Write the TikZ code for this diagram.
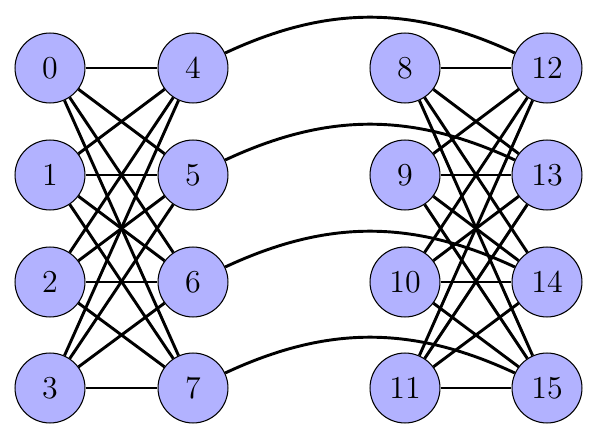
\documentclass[tikz,border=0pt]{standalone}
\begin{document}
\begin{tikzpicture}[x=0.376pt,y=0.376pt,
  vert/.style={circle,draw=black,fill=blue!30,minimum size=26.3pt,inner sep=0pt,font=\large},
  edge/.style={draw=black,line width=1.1pt}]
\useasboundingbox (0,0) rectangle (606,443);
\foreach \c/\px in {0/50,1/193,2/405,3/547}{
  \foreach \r/\py in {0/68,1/175,2/282,3/388}{
    \pgfmathtruncatemacro{\n}{\c*4+\r}
    \node[vert] (v\n) at (\px,443-\py) {\n};
  }
}
\foreach \a in {0,1,2,3}{
  \foreach \b in {4,5,6,7}{
    \draw[edge] (v\a) -- (v\b);
  }
}
\foreach \a in {8,9,10,11}{
  \foreach \b in {12,13,14,15}{
    \draw[edge] (v\a) -- (v\b);
  }
}
\draw[edge] (v4) to[bend left=25] (v12);
\draw[edge] (v5) to[bend left=25] (v13);
\draw[edge] (v6) to[bend left=25] (v14);
\draw[edge] (v7) to[bend left=25] (v15);
\end{tikzpicture}
\end{document}
